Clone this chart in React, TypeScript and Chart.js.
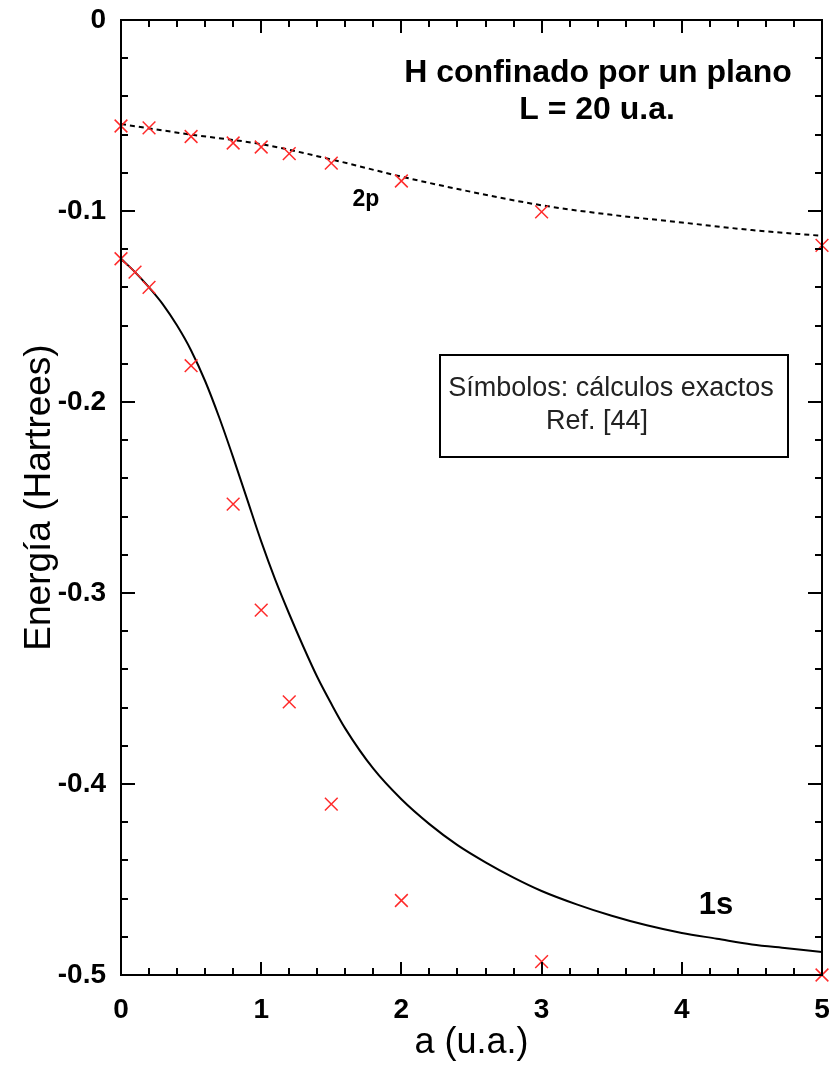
import React, { useEffect, useRef } from "react";
import { Chart, registerables } from "chart.js";

Chart.register(...registerables);

// Curve 1s (solid)
const x1sCurve = [0, 0.1, 0.2, 0.3, 0.4, 0.5, 0.6, 0.7, 0.8, 0.9, 1.0, 1.1, 1.2, 1.3, 1.4, 1.5, 1.6, 1.8, 2.0, 2.2, 2.4, 2.6, 2.8, 3.0, 3.25, 3.5, 3.75, 4.0, 4.25, 4.5, 4.75, 5.0];
const y1sCurve = [-0.125, -0.132, -0.140, -0.149, -0.160, -0.173, -0.189, -0.208, -0.229, -0.251, -0.273, -0.293, -0.311, -0.328, -0.344, -0.358, -0.371, -0.392, -0.408, -0.421, -0.432, -0.441, -0.449, -0.456, -0.463, -0.469, -0.474, -0.478, -0.481, -0.484, -0.486, -0.488];

// Curve 2p (dashed)
const x2pCurve = [0, 0.5, 1, 1.5, 2, 2.5, 3, 3.5, 4, 4.5, 5];
const y2pCurve = [-0.0545, -0.060, -0.065, -0.073, -0.082, -0.090, -0.097, -0.102, -0.106, -0.110, -0.113];

// Exact calculations (symbols)
const x1sExact = [0, 0.1, 0.2, 0.5, 0.8, 1.0, 1.2, 1.5, 2, 3, 5];
const y1sExact = [-0.125, -0.132, -0.140, -0.181, -0.2535, -0.309, -0.357, -0.4105, -0.461, -0.493, -0.5];
const x2pExact = [0, 0.2, 0.5, 0.8, 1.0, 1.2, 1.5, 2, 3, 5];
const y2pExact = [-0.0555, -0.0565, -0.061, -0.0644, -0.0665, -0.070, -0.0749, -0.0843, -0.1005, -0.118];

// Ticks
const xTickValues = [0, 1, 2, 3, 4, 5];
const xTickLabels = ["0", "1", "2", "3", "4", "5"];
const yTickValues = [0, -0.1, -0.2, -0.3, -0.4, -0.5];
const yTickLabels = ["0", "-0.1", "-0.2", "-0.3", "-0.4", "-0.5"];

const FONT = "'Liberation Sans', Arial, Helvetica, sans-serif";

const zip = (xs: number[], ys: number[]) => xs.map((x, i) => ({ x, y: ys[i] }));

const zeroPad = (s: any) => {
  s.paddingTop = 0;
  s.paddingBottom = 0;
  s.paddingLeft = 0;
  s.paddingRight = 0;
};

const framePlugin = {
  id: "frame",
  afterDatasetsDraw(chart: any) {
    const { ctx, chartArea } = chart;
    const xs = chart.scales.x;
    const ys = chart.scales.y;
    const { left, right, top, bottom } = chartArea;
    ctx.save();
    ctx.strokeStyle = "#000";
    ctx.lineWidth = 2;
    ctx.strokeRect(left, top, right - left, bottom - top);
    ctx.beginPath();
    // x ticks every 0.2, major at integers
    for (let i = 0; i <= 25; i++) {
      const v = i * 0.2;
      const px = Math.round(xs.getPixelForValue(v));
      const major = i % 5 === 0;
      const len = major ? 13 : 7;
      ctx.moveTo(px, bottom);
      ctx.lineTo(px, bottom - len);
      ctx.moveTo(px, top);
      ctx.lineTo(px, top + len);
    }
    // y ticks every 0.02, major every 0.1
    for (let i = 0; i <= 25; i++) {
      const v = -i * 0.02;
      const py = Math.round(ys.getPixelForValue(v));
      const major = i % 5 === 0;
      const len = major ? 14 : 7;
      ctx.moveTo(left, py);
      ctx.lineTo(left + len, py);
      ctx.moveTo(right, py);
      ctx.lineTo(right - len, py);
    }
    ctx.stroke();

    // annotations
    ctx.fillStyle = "#000";
    ctx.textAlign = "center";
    ctx.textBaseline = "middle";
    ctx.font = `bold 32px ${FONT}`;
    ctx.fillText("H confinado por un plano", 598, 73);
    ctx.fillText("L = 20 u.a.", 597, 110);

    ctx.font = `bold 23px ${FONT}`;
    ctx.fillText("2p", 366, 200);
    ctx.font = `bold 31px ${FONT}`;
    ctx.fillText("1s", 716, 905);

    // box
    ctx.lineWidth = 2;
    ctx.strokeRect(440, 355, 348, 102);
    ctx.fillStyle = "#222";
    ctx.font = `27px ${FONT}`;
    ctx.fillText("Símbolos: cálculos exactos", 611, 389);
    ctx.fillText("Ref. [44]", 597, 422);
    ctx.restore();
  },
};

export default function App() {
  const ref = useRef<HTMLCanvasElement | null>(null);
  useEffect(() => {
    document.body.style.margin = "0";
    const canvas = ref.current!;
    const chart = new Chart(canvas, {
      type: "scatter",
      data: {
        datasets: [
          {
            label: "1s",
            data: zip(x1sCurve, y1sCurve),
            showLine: true,
            borderColor: "#000",
            borderWidth: 2,
            pointRadius: 0,
            cubicInterpolationMode: "monotone",
            order: 3,
          },
          {
            label: "2p",
            data: zip(x2pCurve, y2pCurve),
            showLine: true,
            borderColor: "#000",
            borderWidth: 2,
            borderDash: [5, 4],
            pointRadius: 0,
            cubicInterpolationMode: "monotone",
            order: 3,
          },
          {
            label: "1s exact",
            data: zip(x1sExact, y1sExact),
            showLine: false,
            pointStyle: "crossRot",
            pointRadius: 9,
            borderColor: "#ff2a2a",
            backgroundColor: "#ff2a2a",
            pointBorderWidth: 1.5,
            clip: false,
            order: 1,
          },
          {
            label: "2p exact",
            data: zip(x2pExact, y2pExact),
            showLine: false,
            pointStyle: "crossRot",
            pointRadius: 9,
            borderColor: "#ff2a2a",
            backgroundColor: "#ff2a2a",
            pointBorderWidth: 1.5,
            clip: false,
            order: 1,
          },
        ],
      },
      options: {
        animation: false,
        responsive: false,
        maintainAspectRatio: false,
        layout: { autoPadding: false, padding: { top: 20, right: 15, left: 0, bottom: 0 } },
        plugins: { legend: { display: false }, tooltip: { enabled: false } },
        scales: {
          x: {
            type: "linear",
            min: 0,
            max: 5,
            grid: { display: false, drawTicks: false, tickLength: 0 },
            border: { display: false },
            afterFit: (s: any) => {
              s.height = 99;
              zeroPad(s);
            },
            afterBuildTicks: (s: any) => {
              s.ticks = xTickValues.map((v) => ({ value: v }));
            },
            ticks: {
              padding: 18,
              color: "#000",
              font: { family: FONT, size: 28, weight: "bold" },
              callback: (v: any) => xTickLabels[xTickValues.indexOf(Number(v))] ?? "",
            },
            title: {
              display: true,
              text: "a (u.a.)",
              color: "#000",
              font: { family: FONT, size: 36 },
              padding: { top: 0, bottom: 9 },
            },
          },
          y: {
            type: "linear",
            min: -0.5,
            max: 0,
            grid: { display: false, drawTicks: false, tickLength: 0 },
            border: { display: false },
            afterFit: (s: any) => {
              s.width = 121;
              zeroPad(s);
            },
            afterBuildTicks: (s: any) => {
              s.ticks = yTickValues.map((v) => ({ value: v }));
            },
            ticks: {
              padding: 15,
              color: "#000",
              font: { family: FONT, size: 28, weight: "bold" },
              callback: (v: any) => {
                const i = yTickValues.findIndex((t) => Math.abs(t - Number(v)) < 1e-9);
                return i >= 0 ? yTickLabels[i] : "";
              },
            },
            title: {
              display: true,
              text: "Energía (Hartrees)",
              color: "#000",
              font: { family: FONT, size: 37 },
              padding: { top: 18, bottom: 0 },
            },
          },
        },
      },
      plugins: [framePlugin],
    });
    return () => chart.destroy();
  }, []);
  return (
    <div style={{ width: 837, height: 1074, background: "#fff" }}>
      <canvas ref={ref} width={837} height={1074} style={{ display: "block" }} />
    </div>
  );
}
